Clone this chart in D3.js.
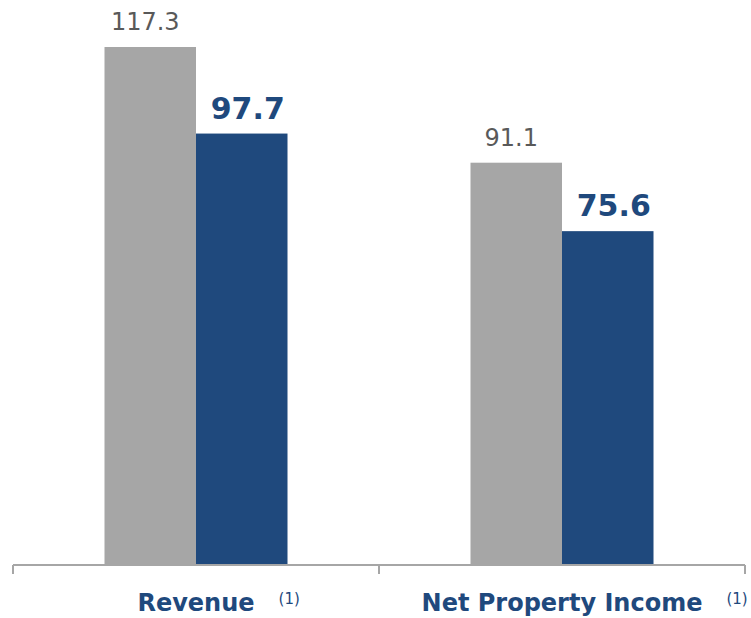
<!DOCTYPE html>
<html>
<head>
    <script src="https://cdnjs.cloudflare.com/ajax/libs/d3/7.8.5/d3.min.js"></script>
    <style>
        body { margin: 0; background: #fff; }
        svg { display: block; }
    </style>
</head>
<body>
    <svg id="chart" width="751" height="618"></svg>
    <script>
        const categories = ["Revenue", "Net Property Income"];
        const series = ["prior", "current"];
        const priorValues = [117.3, 91.1];
        const currentValues = [97.7, 75.6];
        const noteMarks = ["(1)", "(1)"];

        const colors = { prior: "#a6a6a6", current: "#1f497d" };
        const font = "'DejaVu Sans', sans-serif";

        const svg = d3.select("#chart");
        const baseY = 565;

        const x = d3.scaleBand()
            .domain(categories)
            .range([13, 745])
            .padding(0);

        const groupWidth = x.bandwidth() * 0.5;
        const xSub = d3.scaleBand()
            .domain(series)
            .range([0, groupWidth])
            .padding(0);

        const y = d3.scaleLinear()
            .domain([0, 120])
            .range([baseY, baseY - 120 * 4.416]);

        const rows = categories.map((c, i) => ({
            cat: c,
            prior: priorValues[i],
            current: currentValues[i],
            note: noteMarks[i]
        }));

        const groups = svg.selectAll("g.group")
            .data(rows)
            .join("g")
            .attr("class", "group")
            .attr("transform", d => `translate(${x(d.cat) + (x.bandwidth() - groupWidth) / 2},0)`);

        // bars
        groups.selectAll("rect")
            .data(d => series.map(s => ({ key: s, value: d[s] })))
            .join("rect")
            .attr("x", d => xSub(d.key))
            .attr("width", xSub.bandwidth())
            .attr("y", d => y(d.value))
            .attr("height", d => baseY - y(d.value))
            .attr("fill", d => colors[d.key]);

        // value labels
        groups.selectAll("text.val")
            .data(d => series.map(s => ({ key: s, value: d[s] })))
            .join("text")
            .attr("class", "val")
            .attr("x", d => xSub(d.key) + xSub.bandwidth() / 2 + (d.key === "current" ? 6 : -5))
            .attr("y", d => y(d.value) - (d.key === "current" ? 15 : 17))
            .attr("text-anchor", "middle")
            .style("font-family", font)
            .style("font-size", d => d.key === "current" ? "30px" : "24px")
            .style("font-weight", d => d.key === "current" ? "bold" : "normal")
            .style("fill", d => d.key === "current" ? "#1f497d" : "#595959")
            .text(d => d.value.toFixed(1));

        // axis line with ticks at band boundaries
        const edges = categories.map(c => x(c)).concat([x.range()[1]]);
        svg.append("line")
            .attr("x1", x.range()[0]).attr("x2", x.range()[1])
            .attr("y1", baseY).attr("y2", baseY)
            .attr("stroke", "#a6a6a6").attr("stroke-width", 2);
        svg.selectAll("line.tick")
            .data(edges)
            .join("line")
            .attr("class", "tick")
            .attr("x1", d => d).attr("x2", d => d)
            .attr("y1", baseY).attr("y2", baseY + 9)
            .attr("stroke", "#a6a6a6").attr("stroke-width", 2);

        // category labels
        const catLabels = svg.selectAll("g.cat")
            .data(rows)
            .join("g")
            .attr("class", "cat");

        catLabels.append("text")
            .attr("class", "name")
            .attr("x", d => x(d.cat) + x.bandwidth() / 2)
            .attr("y", 611)
            .attr("text-anchor", "middle")
            .style("font-family", font)
            .style("font-size", "24px")
            .style("font-weight", "bold")
            .style("fill", "#1f497d")
            .text(d => d.cat);

        catLabels.each(function(d) {
            const g = d3.select(this);
            const w = g.select("text.name").node().getComputedTextLength();
            const cx = x(d.cat) + x.bandwidth() / 2;
            g.append("text")
                .attr("x", cx + w / 2 + 24)
                .attr("y", 604)
                .style("font-family", font)
                .style("font-size", "15px")
                .style("fill", "#1f497d")
                .text(d.note);
        });
    </script>
</body>
</html>
